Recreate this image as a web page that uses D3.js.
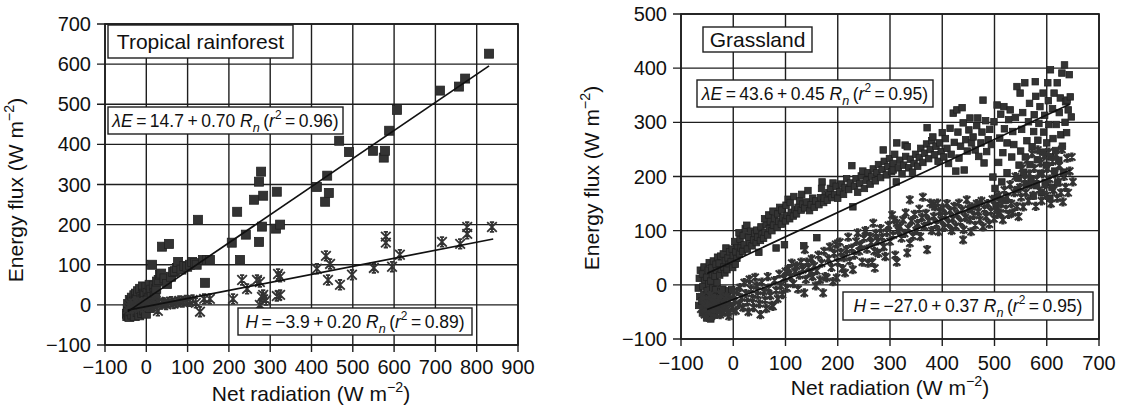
<!DOCTYPE html>
<html><head><meta charset="utf-8">
<script src="https://cdn.jsdelivr.net/npm/d3@7"></script>
<style>
html,body{margin:0;padding:0;background:#fff;}
svg{display:block;font-family:"Liberation Sans",Arial,Helvetica,sans-serif;}
</style></head>
<body><svg id="c" width="1121" height="410"></svg>
<script>
// ---------------- DATA ----------------
const panelTitles = ["Tropical rainforest", "Grassland"];
const xTitle = "Net radiation (W m";
const yTitle = "Energy flux (W m";

const leftXTicks = [-100,0,100,200,300,400,500,600,700,800,900];
const leftYTicks = [-100,0,100,200,300,400,500,600,700];
const rightXTicks = [-100,0,100,200,300,400,500,600,700];
const rightYTicks = [-100,0,100,200,300,400,500];

// regression: [intercept, slope, r2, xStart, xEnd]
const leftFitE = [14.7, 0.70, 0.96, -45, 830];
const leftFitH = [-3.9, 0.20, 0.89, -45, 840];
const rightFitE = [43.6, 0.45, 0.95, -50, 645];
const rightFitH = [-27.0, 0.37, 0.95, -50, 645];

// Tropical rainforest: latent heat (squares)
const forestLE = [[-47,-22],[-46,-28],[-45,-12],[-44,2],[-44,-18],[-42,-26],[-41,-30],[-40,12],[-39,-6],[-38,-16],[-37,8],[-36,-2],[-35,18],[-34,-24],[-33,-8],[-32,-12],[-31,8],[-29,24],[-28,-28],[-27,-6],[-26,10],[-25,28],[-23,14],[-21,-18],[-20,34],[-18,4],[-17,-26],[-15,40],[-13,-10],[-12,20],[-10,-20],[-9,14],[-8,46],[-6,28],[-5,-14],[-4,24],[-3,10],[-1,-22],[0,44],[3,30],[4,12],[5,-4],[6,18],[8,50],[9,-8],[10,28],[12,38],[13,20],[14,100],[16,6],[18,48],[20,30],[22,22],[24,40],[26,58],[30,62],[33,75],[36,78],[38,145],[44,66],[50,52],[55,152],[60,70],[65,82],[69,84],[74,92],[77,107],[85,88],[92,97],[99,95],[106,100],[111,107],[118,104],[122,100],[125,212],[137,112],[142,55],[147,112],[154,112],[207,155],[220,232],[227,112],[241,175],[261,262],[273,157],[273,307],[278,332],[280,195],[283,272],[314,190],[316,282],[324,200],[413,294],[433,257],[438,322],[442,279],[467,409],[491,381],[549,384],[575,367],[578,384],[588,434],[607,486],[711,534],[757,544],[772,564],[830,626]];
// Tropical rainforest: sensible heat (asterisks)
const forestH = [[-45,-10],[-42,-4],[-38,1],[-34,-8],[-30,3],[-26,-3],[-22,5],[-18,0],[-14,3],[-10,-5],[-6,2],[-2,6],[2,0],[6,-3],[10,4],[15,0],[20,-3],[28,-15],[30,8],[36,2],[42,5],[48,1],[54,6],[60,8],[66,3],[72,6],[80,10],[88,7],[96,11],[104,9],[112,12],[120,5],[130,-17],[140,15],[154,15],[210,15],[232,62],[244,40],[268,62],[275,0],[275,57],[280,20],[283,25],[290,12],[316,22],[319,77],[324,25],[324,70],[413,90],[435,122],[440,62],[445,102],[469,50],[498,75],[551,92],[580,155],[580,170],[595,95],[614,125],[716,157],[760,152],[777,177],[777,194],[837,194]];

// Grassland: latent heat (squares)
const grassLE = [[-66,-38],[-64,-22],[-67,-6],[-65,12],[-63,27],[-59,-52],[-57,-41],[-60,-30],[-56,-17],[-58,-3],[-55,9],[-59,20],[-56,33],[-51,-61],[-49,-48],[-52,-36],[-48,-24],[-50,-11],[-47,2],[-51,14],[-48,27],[-46,41],[-43,-63],[-41,-52],[-44,-41],[-40,-29],[-42,-18],[-39,-6],[-43,7],[-40,19],[-41,31],[-38,44],[-35,-56],[-33,-44],[-36,-33],[-32,-21],[-34,-9],[-31,4],[-35,16],[-32,27],[-33,38],[-30,51],[-27,-47],[-25,-36],[-28,-24],[-24,-12],[-26,18],[-23,29],[-27,40],[-24,53],[-19,-31],[-17,-19],[-20,-8],[-16,22],[-18,33],[-15,45],[-19,57],[-14,68],[-11,-22],[-9,-11],[-12,28],[-8,39],[-10,50],[-7,61],[-3,-9],[-1,32],[-4,43],[0,54],[-2,66],[4,38],[7,49],[5,61],[8,72],[3,80],
[12,57],[15,68],[13,84],[11,96],[18,62],[21,74],[19,91],[23,104],[26,110],[27,66],[31,79],[29,88],[33,99],[36,72],[39,83],[41,95],[44,78],[47,88],[45,101],[49,60],[52,82],[55,93],[53,107],[58,86],[61,97],[63,112],[60,122],[66,92],[69,104],[71,117],[68,129],[74,100],[77,110],[79,123],[76,136],[82,68],[84,106],[87,117],[85,131],[89,143],[92,112],[95,124],[93,138],[98,74],[100,118],[103,128],[101,147],[105,158],[108,122],[111,134],[109,152],[115,127],[118,139],[116,163],[121,131],[124,143],[127,155],[130,138],[133,149],[131,167],[135,72],[137,142],[140,153],[143,174],[146,137],[149,148],[152,160],[155,143],[158,155],[160,87],[164,148],[167,161],[170,190],[169,178],[173,152],[176,165],[174,160],[180,156],[183,170],[186,178],[191,188],[189,161],[194,167],[197,182],[200,160],[204,172],[207,186],[211,167],[214,180],[217,196],[221,176],[224,188],[227,220],[229,144],[232,182],[235,196],[238,171],[242,187],[245,201],[248,210],[251,178],[255,193],[258,207],[262,186],[265,200],[268,214],[272,192],[275,207],[278,222],[282,198],[285,213],[287,249],[289,228],[293,203],[296,218],[299,233],[303,209],[306,224],[306,212],[309,241],[313,262],[312,190],[316,216],[319,230],[323,205],[326,221],[329,258],[330,237],[333,255],[336,216],[339,232],[343,208],[346,224],[349,241],[353,219],[356,235],[359,252],[363,226],[366,243],[370,260],[371,290],[374,233],[377,250],[380,266],[382,273],[385,240],[388,256],[392,228],[395,262],[398,246],[400,281],[403,236],[406,270],[409,252],[412,224],[415,289],[417,241],[421,317],[423,263],[426,210],[428,323],[430,282],[432,234],[435,256],[438,327],[440,299],[442,212],[445,268],[448,247],[451,286],[453,308],[456,262],[459,273],[463,249],[466,294],[468,308],[470,237],[474,262],[478,341],[476,282],[480,225],[483,303],[485,246],[488,268],[491,287],[494,259],[497,199],[499,301],[501,178],[503,147],[505,332],[506,162],[508,226],[510,271],[512,315],[514,190],[516,244],[518,329],[519,288],[521,156],[524,207],[524,262],[527,305],[530,323],[533,236],[535,283],[537,259],[540,309],[543,366],[544,176],[546,197],[547,221],[549,354],[550,247],[552,287],[554,318],[556,208],[558,373],[559,236],[561,185],[562,266],[565,301],[567,335],[568,222],[570,196],[572,255],[574,164],[575,283],[576,314],[578,375],[579,348],[580,183],[582,231],[583,267],[585,298],[587,329],[588,206],[590,170],[592,245],[593,354],[594,282],[596,313],[597,189],[599,221],[600,262],[602,373],[603,340],[604,296],[606,160],[607,397],[608,236],[610,180],[611,325],[612,270],[614,354],[615,210],[617,248],[618,296],[620,373],[621,188],[623,230],[624,318],[626,345],[627,277],[629,391],[630,256],[632,208],[634,406],[635,300],[636,338],[638,281],[639,341],[641,323],[643,388],[645,347],[647,310]];

// Grassland: sensible heat (asterisks)
const grassH = [[-62,-45],[-58,-34],[-60,-22],[-55,-55],[-53,-42],[-56,-28],[-50,-60],[-47,-48],[-49,-35],[-45,-20],[-42,-58],[-39,-44],[-41,-31],[-37,-52],[-34,-38],[-36,-25],[-30,-46],[-28,-32],[-25,-55],[-22,-41],[-24,-18],[-19,-50],[-16,-36],[-14,-22],[-11,-45],[-8,-58],[-6,-30],[-3,-42],[0,-18],[-10,-52],
[2,-30],[5,-48],[8,-12],[11,-36],[13,-5],[16,-24],[19,-42],[21,4],[24,-16],[27,-32],[29,-50],[31,10],[34,-8],[37,-25],[39,-42],[42,14],[45,-2],[47,-19],[50,-35],[52,-55],[55,5],[58,-12],[61,-28],[63,-44],[66,15],[68,-6],[71,-20],[74,-38],[76,-40],[79,8],[82,-10],[85,-26],[88,20],[91,-2],[94,-18],[97,12],[100,25],[103,-6],[106,30],[109,15],[112,40],[115,2],[118,24],[121,35],[124,-8],[127,18],[130,42],[133,28],[136,-15],[137,65],[139,10],[141,42],[144,32],[147,22],[150,48],[152,15],[155,35],[158,-2],[160,26],[163,55],[166,9],[169,40],[172,-15],[174,62],[176,15],[179,13],[182,48],[185,70],[188,32],[191,6],[193,58],[196,75],[198,13],[200,42],[204,79],[206,60],[209,30],[212,50],[214,22],[217,65],[220,88],[223,44],[227,68],[229,28],[232,55],[235,80],[238,96],[241,62],[244,74],[247,42],[250,86],[253,100],[256,66],[258,40],[262,89],[264,78],[266,42],[268,114],[270,62],[271,31],[273,95],[276,81],[278,58],[282,104],[285,88],[288,70],[291,52],[294,97],[297,110],[300,80],[304,129],[306,92],[308,120],[310,55],[313,114],[313,42],[316,100],[319,107],[322,86],[325,120],[328,95],[330,133],[333,59],[335,104],[338,77],[338,157],[341,118],[344,90],[347,130],[350,100],[353,113],[356,140],[358,89],[361,124],[363,162],[366,108],[369,132],[371,65],[374,118],[377,151],[380,100],[382,148],[384,126],[386,144],[389,112],[391,151],[393,98],[395,135],[398,120],[401,142],[404,106],[406,128],[409,150],[412,114],[415,137],[418,100],[420,122],[423,145],[426,108],[429,130],[432,151],[435,116],[438,138],[440,83],[441,102],[444,124],[447,157],[450,140],[453,120],[455,98],[457,144],[460,128],[463,110],[466,150],[469,135],[472,120],[475,155],[478,107],[481,140],[484,126],[487,150],[490,112],[493,136],[496,158],[499,122],[502,145],[505,130],[508,165],[511,133],[513,150],[516,120],[519,175],[522,140],[524,162],[527,130],[530,185],[532,150],[535,133],[538,170],[540,200],[543,145],[546,126],[549,180],[551,162],[553,215],[555,144],[558,195],[560,170],[562,230],[565,155],[567,205],[569,185],[572,242],[574,165],[576,215],[579,145],[581,195],[583,249],[585,175],[588,225],[590,155],[592,205],[595,238],[597,185],[599,165],[601,215],[604,245],[606,195],[608,150],[611,228],[613,175],[615,205],[618,240],[620,160],[622,190],[624,220],[627,170],[629,250],[631,153],[633,200],[636,180],[639,234],[641,170],[644,210],[648,236],[650,190]];

// ---------------- DRAW ----------------
const svg = d3.select("#c");
const INK = "#1e1e1e", MARK = "#333333";

function eqText(sel, sym, fit){
  const fmt = v => (v < 0 ? "\u2212" + Math.abs(v).toFixed(1) : v.toFixed(1));
  const s = sel.text(null);
  s.append("tspan").attr("font-style","italic").text(sym);
  s.append("tspan").text("\u2009=\u2009" + fmt(fit[0]) + "\u2009+\u2009" + fit[1].toFixed(2) + " ");
  s.append("tspan").attr("font-style","italic").text("R");
  s.append("tspan").attr("font-style","italic").attr("font-size","0.72em").attr("dy",5).text("n");
  s.append("tspan").attr("dy",-5).text("\u2009(");
  s.append("tspan").attr("font-style","italic").text("r");
  s.append("tspan").attr("font-size","0.68em").attr("dy",-8).text("2");
  s.append("tspan").attr("dy",8).text("\u2009=\u2009" + fit[2].toFixed(2) + ")");
}

function unitTitle(sel, base){
  sel.append("tspan").text(base);
  sel.append("tspan").attr("font-size","0.68em").attr("dy",-9).text("\u22122");
  sel.append("tspan").attr("dy",9).text(")");
}

function panel(cfg){
  const x = d3.scaleLinear().domain(cfg.xd).range(cfg.xr);
  const y = d3.scaleLinear().domain(cfg.yd).range(cfg.yr);
  const g = svg.append("g");
  // grid
  g.append("g").selectAll("line").data(cfg.xt).join("line")
    .attr("x1",d=>x(d)).attr("x2",d=>x(d)).attr("y1",cfg.yr[0]+7).attr("y2",cfg.yr[1])
    .attr("stroke",INK).attr("stroke-width",1.4);
  g.append("g").selectAll("line").data(cfg.yt).join("line")
    .attr("y1",d=>y(d)).attr("y2",d=>y(d)).attr("x1",cfg.xr[0]-8).attr("x2",cfg.xr[1])
    .attr("stroke",INK).attr("stroke-width",1.4);
  g.append("rect").attr("x",cfg.xr[0]).attr("y",cfg.yr[1]).attr("width",cfg.xr[1]-cfg.xr[0]).attr("height",cfg.yr[0]-cfg.yr[1])
    .attr("fill","none").attr("stroke",INK).attr("stroke-width",1.7);
  // tick labels
  g.append("g").selectAll("text").data(cfg.xt).join("text")
    .attr("x",d=>x(d)).attr("y",cfg.xlabY).attr("text-anchor","middle").attr("font-size",20).attr("fill","#111")
    .text(d=>d<0?"\u2212"+Math.abs(d):d);
  g.append("g").selectAll("text").data(cfg.yt).join("text")
    .attr("x",cfg.ylabX).attr("y",d=>y(d)+7).attr("text-anchor","end").attr("font-size",20).attr("fill","#111")
    .text(d=>d<0?"\u2212"+Math.abs(d):d);
  // axis titles
  const xt = g.append("text").attr("x",cfg.xTitlePos[0]).attr("y",cfg.xTitlePos[1]).attr("text-anchor","middle").attr("font-size",21).attr("fill","#111");
  unitTitle(xt, xTitle);
  const yt = g.append("text").attr("transform",`translate(${cfg.yTitlePos[0]},${cfg.yTitlePos[1]}) rotate(-90)`).attr("text-anchor","middle").attr("font-size",21).attr("fill","#111");
  unitTitle(yt, yTitle);
  // points
  const sq = cfg.sq;
  g.append("g").selectAll("rect").data(cfg.E).join("rect")
    .attr("x",d=>x(d[0])-sq/2).attr("y",d=>y(d[1])-sq/2).attr("width",sq).attr("height",sq)
    .attr("fill",MARK).attr("stroke","#222").attr("stroke-width",0.8);
  const a = cfg.st;
  const star = `M${-a},${-a}L${a},${a}M${-a},${a}L${a},${-a}M0,${-a}L0,${a}M${-a*0.45},${-a}L${a*0.45},${-a}M${-a*0.45},${a}L${a*0.45},${a}`;
  g.append("g").selectAll("path").data(cfg.H).join("path")
    .attr("transform",d=>`translate(${x(d[0])},${y(d[1])})`).attr("d",star)
    .attr("fill","none").attr("stroke",MARK).attr("stroke-width",cfg.sw);
  // fit lines
  [cfg.fE, cfg.fH].forEach(f=>{
    g.append("line").attr("x1",x(f[3])).attr("y1",y(f[0]+f[1]*f[3])).attr("x2",x(f[4])).attr("y2",y(f[0]+f[1]*f[4]))
      .attr("stroke","#111").attr("stroke-width",1.7);
  });
  // label boxes
  function box(b, fs, fill){
    g.append("rect").attr("x",b[0]).attr("y",b[1]).attr("width",b[2]).attr("height",b[3])
      .attr("fill","#fff").attr("stroke",INK).attr("stroke-width",1.4);
    const t = g.append("text").attr("x",b[0]+b[2]/2).attr("y",b[1]+b[3]/2+fs*0.36).attr("text-anchor","middle")
      .attr("font-size",fs).attr("fill","#111");
    fill(t);
  }
  box(cfg.titleBox, 21, t=>t.text(cfg.title));
  box(cfg.eBox, 17.5, t=>eqText(t, "\u03bbE", cfg.fE));
  box(cfg.hBox, 17.5, t=>eqText(t, "H", cfg.fH));
}

panel({
  xd:[-100,900], xr:[105,518], yd:[-100,700], yr:[345,24],
  xt:leftXTicks, yt:leftYTicks, xlabY:374, ylabX:91,
  xTitlePos:[311,401], yTitlePos:[23,190],
  E:forestLE, H:forestH, fE:leftFitE, fH:leftFitH, sq:9, st:4.8, sw:1.8,
  title:panelTitles[0], titleBox:[108,25,185,33], eBox:[108,107,235,27], hBox:[238,308,234,27]
});
panel({
  xd:[-100,700], xr:[681,1099], yd:[-100,500], yr:[339,14],
  xt:rightXTicks, yt:rightYTicks, xlabY:370, ylabX:667,
  xTitlePos:[890,395], yTitlePos:[599,178],
  E:grassLE, H:grassH, fE:rightFitE, fH:rightFitH, sq:6.5, st:3.6, sw:2,
  title:panelTitles[1], titleBox:[703,27,109,25], eBox:[697,80,236,27], hBox:[843,292,250,28]
});
</script></body></html>
